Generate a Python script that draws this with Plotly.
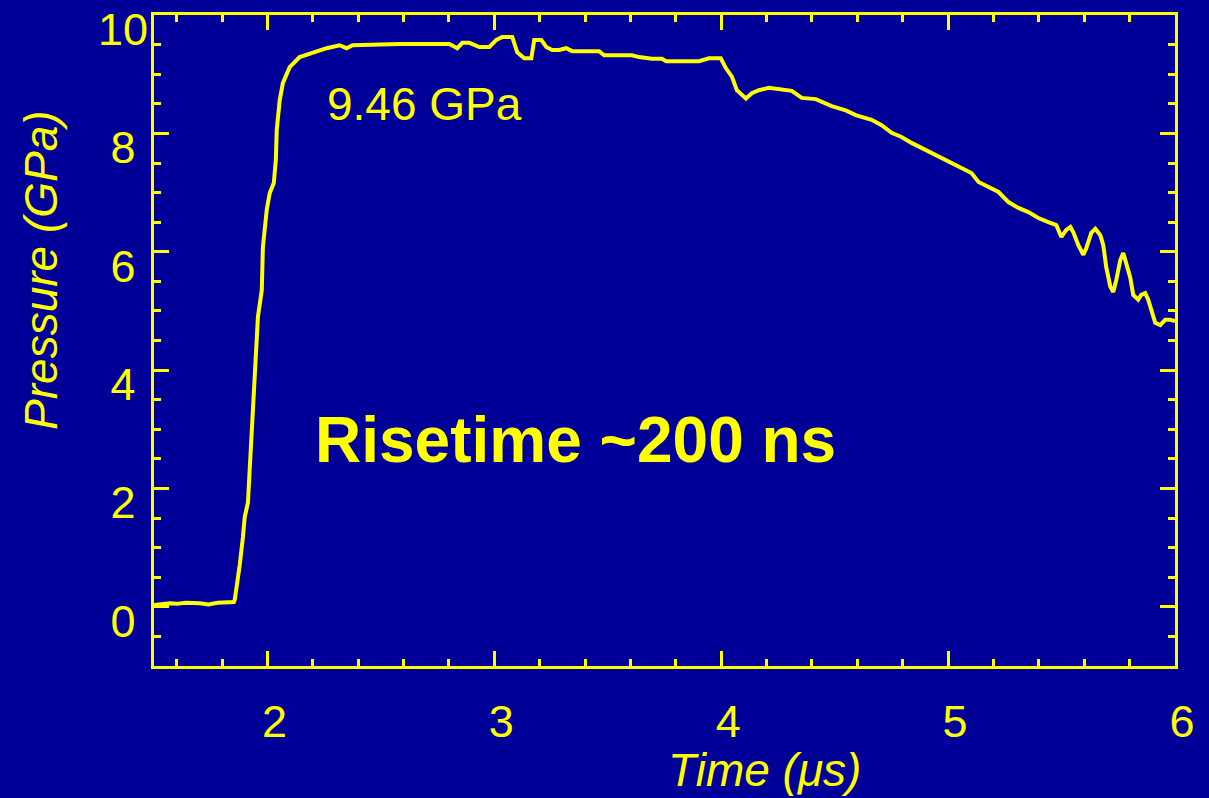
import plotly.graph_objects as go

# Time (µs) and pressure (GPa)
time_us = [
    1.500, 1.530, 1.570, 1.600, 1.640, 1.702, 1.740, 1.780, 1.820, 1.852, 1.856,
    1.865, 1.878, 1.892, 1.900, 1.914, 1.922, 1.936, 1.949, 1.958, 1.975,
    1.980, 1.997, 2.010, 2.028, 2.037, 2.041, 2.054, 2.068, 2.098, 2.142,
    2.200, 2.261, 2.318, 2.349, 2.375, 2.582, 2.802, 2.837, 2.859, 2.890,
    2.934, 2.978, 3.009, 3.035, 3.079, 3.101, 3.132, 3.163, 3.176, 3.207,
    3.229, 3.255, 3.286, 3.317, 3.343, 3.462, 3.484, 3.519, 3.607, 3.638,
    3.695, 3.739, 3.757, 3.902, 3.946, 3.998, 4.021, 4.047, 4.069, 4.109,
    4.135, 4.166, 4.210, 4.311, 4.355, 4.417, 4.461, 4.487, 4.549, 4.593,
    4.663, 4.707, 4.751, 4.795, 4.839, 4.901, 4.958, 5.015, 5.059, 5.103,
    5.134, 5.178, 5.222, 5.266, 5.310, 5.354, 5.398, 5.442, 5.477, 5.499,
    5.521, 5.539, 5.552, 5.574, 5.596, 5.609, 5.631, 5.649, 5.671, 5.684,
    5.697, 5.715, 5.728, 5.741, 5.759, 5.772, 5.785, 5.803, 5.816, 5.838,
    5.851, 5.869, 5.882, 5.895, 5.913, 5.935, 5.957, 5.979, 6.000,
]
pressure_gpa = [
    0.03, 0.05, 0.06, 0.05, 0.07, 0.06, 0.04, 0.07, 0.07, 0.08, 0.12,
    0.34, 0.71, 1.18, 1.52, 1.76, 2.31, 3.28, 4.22, 4.90, 5.35,
    6.08, 6.71, 6.99, 7.16, 7.55, 8.06, 8.56, 8.85, 9.12, 9.29,
    9.37, 9.44, 9.49, 9.44, 9.49, 9.51, 9.51, 9.44, 9.53, 9.53,
    9.46, 9.46, 9.58, 9.63, 9.63, 9.37, 9.27, 9.27, 9.58, 9.58,
    9.46, 9.41, 9.41, 9.44, 9.39, 9.39, 9.32, 9.32, 9.32, 9.29,
    9.26, 9.26, 9.22, 9.22, 9.27, 9.27, 9.10, 8.96, 8.73, 8.59,
    8.68, 8.73, 8.77, 8.72, 8.60, 8.58, 8.51, 8.46, 8.39, 8.31,
    8.23, 8.14, 8.01, 7.94, 7.84, 7.72, 7.60, 7.50, 7.42, 7.33,
    7.18, 7.09, 7.01, 6.84, 6.74, 6.67, 6.57, 6.50, 6.45, 6.25,
    6.37, 6.42, 6.33, 6.11, 5.95, 6.06, 6.32, 6.39, 6.28, 6.11,
    5.74, 5.41, 5.32, 5.52, 5.86, 5.98, 5.81, 5.56, 5.27, 5.19,
    5.27, 5.30, 5.19, 5.02, 4.80, 4.76, 4.85, 4.85, 4.83,
]

x_tick_vals = [2, 3, 4, 5, 6]
y_tick_vals = [0, 2, 4, 6, 8, 10]
y_tick_text = ["0\u00a0", "2\u00a0", "4\u00a0", "6\u00a0", "8\u00a0", "10"]

peak_label = "9.46 GPa"
rise_label = "Risetime ~200 ns"
x_title = "Time (μs)"
y_title = "Pressure (GPa)"

YELLOW = "#FFFF00"
BG = "#000099"
FONT = "Liberation Sans, Arial, sans-serif"

fig = go.Figure()
fig.add_trace(go.Scatter(
    x=time_us, y=pressure_gpa, mode="lines",
    line=dict(color=YELLOW, width=4), showlegend=False, hoverinfo="skip",
))

axis_common = dict(
    showline=True, linecolor=YELLOW, linewidth=3, mirror="ticks",
    ticks="inside", tickcolor=YELLOW, tickwidth=3, ticklen=15,
    showgrid=False, zeroline=False, automargin=False,
    tickfont=dict(family=FONT, size=45, color=YELLOW),
)

fig.update_xaxes(
    range=[1.5, 6], tickvals=x_tick_vals, ticktext=[str(v) for v in x_tick_vals],
    minor=dict(dtick=0.2, tick0=0, ticks="inside", ticklen=7, tickwidth=3, tickcolor=YELLOW),
    ticklabelstandoff=14, ticklabelshift=7,
    **axis_common,
)
fig.update_yaxes(
    range=[-1, 10.001], tickvals=y_tick_vals, ticktext=y_tick_text,
    minor=dict(dtick=0.5, tick0=0, ticks="inside", ticklen=7, tickwidth=3, tickcolor=YELLOW),
    ticklabelshift=14, ticklabelstandoff=-6,
    **axis_common,
)

fig.add_annotation(x=2.69, y=8.50, xref="x", yref="y", text=peak_label, showarrow=False,
                   xanchor="center", yanchor="middle",
                   font=dict(family=FONT, size=46, color=YELLOW))
fig.add_annotation(x=3.357, y=2.82, xref="x", yref="y", text=f"<b>{rise_label}</b>", showarrow=False,
                   xanchor="center", yanchor="middle",
                   font=dict(family=FONT, size=64, color=YELLOW))
fig.add_annotation(x=0.598, y=-0.16, xref="paper", yref="paper", text=f"<i>{x_title}</i>",
                   showarrow=False, xanchor="center", yanchor="middle",
                   font=dict(family=FONT, size=46, color=YELLOW))
fig.add_annotation(x=-0.110, y=0.608, xref="paper", yref="paper", text=f"<i>{y_title}</i>",
                   showarrow=False, textangle=-90, xanchor="center", yanchor="middle",
                   font=dict(family=FONT, size=46, color=YELLOW))

fig.update_layout(
    width=1209, height=798,
    margin=dict(l=154, r=34, t=15, b=132, autoexpand=False),
    paper_bgcolor=BG, plot_bgcolor=BG,
)

fig.write_html("out.html", config={"displayModeBar": False},
               post_script="document.body.style.margin='0';")
